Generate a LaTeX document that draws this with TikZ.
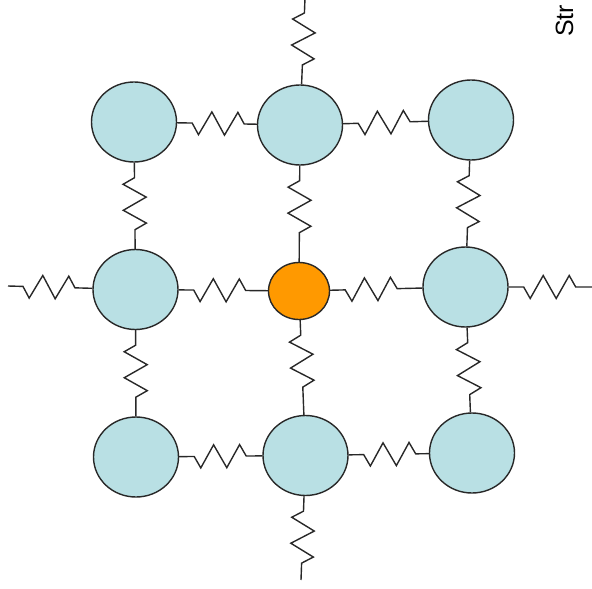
\documentclass[tikz,border=0pt]{standalone}
\usepackage{fontspec}
\setmainfont{Liberation Sans}
\usetikzlibrary{shapes.geometric,decorations.pathmorphing}
\definecolor{massblue}{RGB}{185,224,228}
\definecolor{massorange}{RGB}{255,153,0}
\definecolor{outline}{RGB}{40,40,40}

\begin{document}
\begin{tikzpicture}[x=1pt,y=-1pt,
  mass/.style={ellipse, draw=outline, line width=1.4pt, fill=massblue,
    minimum width=85pt, minimum height=80pt, inner sep=0pt},
  core/.style={mass, fill=massorange, minimum width=61pt, minimum height=57pt},
  spring/.style={draw=outline, line width=1.4pt, decorate,
    decoration={zigzag, mirror, segment length=26pt, amplitude=11.5pt,
      pre length=15pt, post length=12pt}},
  longspring/.style={spring, decoration={post length=20pt}}]

\useasboundingbox (0,0) rectangle (592,589);

% lattice of masses
\node[mass] (n11) at (134,122) {};
\node[mass] (n12) at (300,125) {};
\node[mass] (n13) at (471,120) {};
\node[mass] (n21) at (135.5,289.5) {};
\node[core] (n22) at (299,291) {};
\node[mass] (n23) at (465.5,287) {};
\node[mass] (n31) at (136,457) {};
\node[mass] (n32) at (305.5,455.5) {};
\node[mass] (n33) at (472,453) {};

% free ends of the outer springs
\coordinate (topend) at (305,-2);
\coordinate (leftend) at (8,286);
\coordinate (rightend) at (594,287);
\coordinate (bottomend) at (301,580);

% horizontal springs
\draw[spring] (n11) -- (n12);
\draw[spring] (n12) -- (n13);
\draw[spring] (n21) -- (n22);
\draw[longspring] (n22) -- (n23);
\draw[spring] (n31) -- (n32);
\draw[spring] (n32) -- (n33);
\draw[spring] (leftend) -- (n21);
\draw[spring] (n23) -- (rightend);

% vertical springs
\draw[spring] (n11) -- (n21);
\draw[spring] (n21) -- (n31);
\draw[longspring] (n12) -- (n22);
\draw[longspring] (n22) -- (n32);
\draw[spring] (n13) -- (n23);
\draw[spring] (n23) -- (n33);
\draw[spring] (topend) -- (n12);
\draw[spring] (n32) -- (bottomend);

% caption
\node[rotate=90, anchor=base west, inner sep=0pt,
  font=\fontsize{25}{30}\selectfont] (caption) at (573,37) {Str};
\end{tikzpicture}
\end{document}
